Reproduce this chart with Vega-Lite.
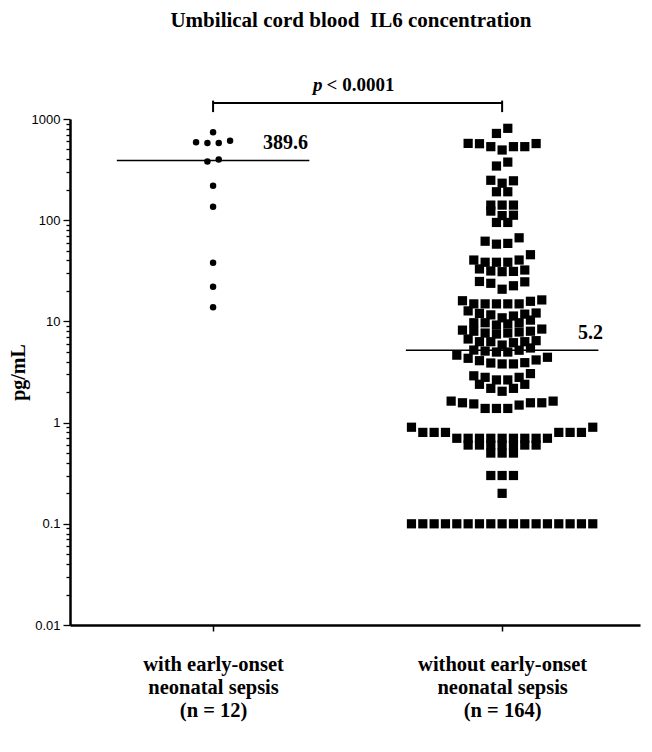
{
  "$schema": "https://vega.github.io/schema/vega-lite/v6.json",
  "width": 570,
  "height": 506,
  "autosize": "none",
  "padding": {"left": 70, "top": 119, "right": 12, "bottom": 127},
  "background": "white",
  "title": {
    "text": "Umbilical cord blood\u00a0 IL6 concentration",
    "font": "Liberation Serif",
    "fontSize": 21,
    "fontWeight": "bold",
    "color": "black",
    "anchor": "middle",
    "frame": "group",
    "dx": -4,
    "offset": 45
  },
  "datasets": {
    "il6": [
      {"group": "with", "il6": 739}, {"group": "with", "il6": 611}, {"group": "with", "il6": 590}, {"group": "with", "il6": 580},
      {"group": "with", "il6": 578}, {"group": "with", "il6": 398.2}, {"group": "with", "il6": 381}, {"group": "with", "il6": 219},
      {"group": "with", "il6": 136}, {"group": "with", "il6": 38}, {"group": "with", "il6": 22}, {"group": "with", "il6": 13.8},
      {"group": "without", "il6": 809}, {"group": "without", "il6": 720},
      {"group": "without", "il6": 574}, {"group": "without", "il6": 572}, {"group": "without", "il6": 570}, {"group": "without", "il6": 533}, {"group": "without", "il6": 533}, {"group": "without", "il6": 533}, {"group": "without", "il6": 494},
      {"group": "without", "il6": 375}, {"group": "without", "il6": 343},
      {"group": "without", "il6": 248}, {"group": "without", "il6": 245}, {"group": "without", "il6": 232},
      {"group": "without", "il6": 191}, {"group": "without", "il6": 191},
      {"group": "without", "il6": 141}, {"group": "without", "il6": 141}, {"group": "without", "il6": 141},
      {"group": "without", "il6": 123}, {"group": "without", "il6": 112}, {"group": "without", "il6": 111},
      {"group": "without", "il6": 95}, {"group": "without", "il6": 95},
      {"group": "without", "il6": 67}, {"group": "without", "il6": 62}, {"group": "without", "il6": 59}, {"group": "without", "il6": 58},
      {"group": "without", "il6": 45.6}, {"group": "without", "il6": 40.4}, {"group": "without", "il6": 40.4}, {"group": "without", "il6": 38.4}, {"group": "without", "il6": 38.4}, {"group": "without", "il6": 38.4},
      {"group": "without", "il6": 33}, {"group": "without", "il6": 32.2}, {"group": "without", "il6": 31.5}, {"group": "without", "il6": 31.2}, {"group": "without", "il6": 31.0},
      {"group": "without", "il6": 24.8}, {"group": "without", "il6": 24.6}, {"group": "without", "il6": 23.8}, {"group": "without", "il6": 22.5}, {"group": "without", "il6": 20.8},
      {"group": "without", "il6": 16.3}, {"group": "without", "il6": 16.0}, {"group": "without", "il6": 15.8}, {"group": "without", "il6": 14.9}, {"group": "without", "il6": 14.9}, {"group": "without", "il6": 14.9}, {"group": "without", "il6": 14.9}, {"group": "without", "il6": 14.9},
      {"group": "without", "il6": 12.7}, {"group": "without", "il6": 12.1}, {"group": "without", "il6": 12.0}, {"group": "without", "il6": 11.8}, {"group": "without", "il6": 11.6}, {"group": "without", "il6": 11.3}, {"group": "without", "il6": 10.85},
      {"group": "without", "il6": 10.3}, {"group": "without", "il6": 9.7}, {"group": "without", "il6": 9.7}, {"group": "without", "il6": 9.7}, {"group": "without", "il6": 9.45}, {"group": "without", "il6": 9.2},
      {"group": "without", "il6": 8.4}, {"group": "without", "il6": 8.2}, {"group": "without", "il6": 8.0}, {"group": "without", "il6": 8.0}, {"group": "without", "il6": 7.85}, {"group": "without", "il6": 7.67}, {"group": "without", "il6": 7.67}, {"group": "without", "il6": 7.5},
      {"group": "without", "il6": 6.7}, {"group": "without", "il6": 6.45}, {"group": "without", "il6": 6.3}, {"group": "without", "il6": 6.3}, {"group": "without", "il6": 6.3}, {"group": "without", "il6": 6.16}, {"group": "without", "il6": 5.84},
      {"group": "without", "il6": 5.46}, {"group": "without", "il6": 5.21}, {"group": "without", "il6": 5.19}, {"group": "without", "il6": 5.09}, {"group": "without", "il6": 4.98}, {"group": "without", "il6": 4.98},
      {"group": "without", "il6": 4.64}, {"group": "without", "il6": 4.42}, {"group": "without", "il6": 4.32}, {"group": "without", "il6": 4.16}, {"group": "without", "il6": 4.09}, {"group": "without", "il6": 3.91}, {"group": "without", "il6": 3.88}, {"group": "without", "il6": 3.8}, {"group": "without", "il6": 3.8},
      {"group": "without", "il6": 3.05}, {"group": "without", "il6": 2.9}, {"group": "without", "il6": 2.8}, {"group": "without", "il6": 2.8}, {"group": "without", "il6": 2.64}, {"group": "without", "il6": 2.64},
      {"group": "without", "il6": 2.39}, {"group": "without", "il6": 2.39}, {"group": "without", "il6": 2.18}, {"group": "without", "il6": 2.18}, {"group": "without", "il6": 2.04},
      {"group": "without", "il6": 1.63}, {"group": "without", "il6": 1.63}, {"group": "without", "il6": 1.57}, {"group": "without", "il6": 1.57}, {"group": "without", "il6": 1.57}, {"group": "without", "il6": 1.53}, {"group": "without", "il6": 1.49}, {"group": "without", "il6": 1.38}, {"group": "without", "il6": 1.38}, {"group": "without", "il6": 1.38},
      {"group": "without", "il6": 0.9}, {"group": "without", "il6": 0.9},
      {"group": "without", "il6": 0.8}, {"group": "without", "il6": 0.8}, {"group": "without", "il6": 0.8}, {"group": "without", "il6": 0.8}, {"group": "without", "il6": 0.8}, {"group": "without", "il6": 0.8},
      {"group": "without", "il6": 0.7}, {"group": "without", "il6": 0.7}, {"group": "without", "il6": 0.7}, {"group": "without", "il6": 0.7}, {"group": "without", "il6": 0.7}, {"group": "without", "il6": 0.7}, {"group": "without", "il6": 0.7}, {"group": "without", "il6": 0.7}, {"group": "without", "il6": 0.7},
      {"group": "without", "il6": 0.6}, {"group": "without", "il6": 0.6}, {"group": "without", "il6": 0.6}, {"group": "without", "il6": 0.6}, {"group": "without", "il6": 0.6}, {"group": "without", "il6": 0.6}, {"group": "without", "il6": 0.6},
      {"group": "without", "il6": 0.5}, {"group": "without", "il6": 0.5}, {"group": "without", "il6": 0.5},
      {"group": "without", "il6": 0.3}, {"group": "without", "il6": 0.3}, {"group": "without", "il6": 0.3},
      {"group": "without", "il6": 0.2},
      {"group": "without", "il6": 0.1}, {"group": "without", "il6": 0.1}, {"group": "without", "il6": 0.1}, {"group": "without", "il6": 0.1}, {"group": "without", "il6": 0.1}, {"group": "without", "il6": 0.1},
      {"group": "without", "il6": 0.1}, {"group": "without", "il6": 0.1}, {"group": "without", "il6": 0.1}, {"group": "without", "il6": 0.1}, {"group": "without", "il6": 0.1}, {"group": "without", "il6": 0.1},
      {"group": "without", "il6": 0.1}, {"group": "without", "il6": 0.1}, {"group": "without", "il6": 0.1}, {"group": "without", "il6": 0.1}, {"group": "without", "il6": 0.1}
    ],
    "medians": [
      {"group": "with", "median": 389.6, "label": "389.6"},
      {"group": "without", "median": 5.2, "label": "5.2"}
    ]
  },
  "layer": [
    {
      "data": {"name": "il6"},
      "transform": [
        {"calculate": "datum.il6 > 1 ? floor(32.36 - 11 * log(datum.il6) / LN10) : 100 - floor((log(datum.il6) / LN10 + 0.16) / 0.12)", "as": "row"},
        {"window": [{"op": "row_number", "as": "rk"}, {"op": "count", "as": "n"}], "groupby": ["group", "row"], "sort": [{"field": "il6", "order": "ascending"}], "frame": [null, null]},
        {"calculate": "datum.rk - 1", "as": "r"},
        {"calculate": "datum.n % 2 == 1 ? (datum.r == 0 ? 0 : (datum.r % 2 == 1 ? 1 : -1) * ceil(datum.r / 2)) : (datum.r % 2 == 0 ? -1 : 1) * (floor(datum.r / 2) + 0.5)", "as": "slot"},
        {"calculate": "(datum.group == 'without' ? 1 : 0) + datum.slot * 0.0392", "as": "xpos"}
      ],
      "encoding": {
        "x": {
          "field": "xpos", "type": "quantitative",
          "scale": {"domain": [-0.495, 1.477], "nice": false, "zero": false},
          "axis": {
            "values": [0, 1],
            "labelExpr": "datum.value < 0.5 ? ['with early-onset', 'neonatal sepsis', '(n = 12)'] : ['without early-onset', 'neonatal sepsis', '(n = 164)']",
            "title": null, "grid": false,
            "domainWidth": 2.5, "domainColor": "black",
            "tickSize": 6, "tickWidth": 1.5, "tickColor": "black",
            "labelFont": "Liberation Serif", "labelFontWeight": "bold", "labelFontSize": 20.5,
            "labelLineHeight": 23, "labelPadding": 23, "labelBaseline": "top",
            "labelColor": "black", "labelOverlap": false, "labelFlush": false
          }
        },
        "y": {
          "field": "il6", "type": "quantitative",
          "scale": {"type": "log", "domain": [0.01, 1000], "nice": false},
          "axis": {
            "title": "pg/mL",
            "values": [0.01, 0.02, 0.03, 0.04, 0.05, 0.06, 0.07, 0.08, 0.09, 0.1, 0.2, 0.3, 0.4, 0.5, 0.6, 0.7, 0.8, 0.9, 1, 2, 3, 4, 5, 6, 7, 8, 9, 10, 20, 30, 40, 50, 60, 70, 80, 90, 100, 200, 300, 400, 500, 600, 700, 800, 900, 1000],
            "labelExpr": "abs(log(datum.value) / LN10 - round(log(datum.value) / LN10)) < 0.001 ? format(datum.value, '~r') : ''",
            "tickSize": {"condition": {"test": "abs(log(datum.value) / LN10 - round(log(datum.value) / LN10)) < 0.001", "value": 7}, "value": 4},
            "tickWidth": 1.3, "tickColor": "black",
            "grid": false, "domainWidth": 2.5, "domainColor": "black",
            "labelFont": "Liberation Sans", "labelFontSize": 13, "labelColor": "black",
            "labelPadding": 3, "labelOverlap": false, "labelFlush": false,
            "titleFont": "Liberation Serif", "titleFontSize": 20, "titleFontWeight": "bold", "titleColor": "black",
            "titleX": -52, "titleY": 253, "titleBaseline": "middle", "titleAlign": "center"
          }
        }
      },
      "layer": [
        {
          "transform": [{"filter": "datum.group == 'with'"}],
          "mark": {"type": "point", "shape": "circle", "filled": true, "color": "black", "size": 42, "opacity": 1}
        },
        {
          "transform": [{"filter": "datum.group == 'without'"}],
          "mark": {"type": "square", "color": "black", "size": 85, "opacity": 1}
        }
      ]
    },
    {
      "data": {"name": "medians"},
      "transform": [
        {"calculate": "(datum.group == 'without' ? 1 : 0) - 0.333", "as": "x1"},
        {"calculate": "(datum.group == 'without' ? 1 : 0) + 0.333", "as": "x2"}
      ],
      "mark": {"type": "rule", "color": "black", "strokeWidth": 1.5},
      "encoding": {
        "x": {"field": "x1", "type": "quantitative"},
        "x2": {"field": "x2"},
        "y": {"field": "median", "type": "quantitative"}
      }
    },
    {
      "data": {"name": "medians"},
      "transform": [
        {"filter": "datum.group == 'with'"},
        {"calculate": "0", "as": "gx"}
      ],
      "mark": {"type": "text", "align": "left", "baseline": "middle", "dx": 50, "dy": -17, "font": "Liberation Serif", "fontWeight": "bold", "fontSize": 20, "color": "black"},
      "encoding": {
        "x": {"field": "gx", "type": "quantitative"},
        "y": {"field": "median", "type": "quantitative"},
        "text": {"field": "label"}
      }
    },
    {
      "data": {"name": "medians"},
      "transform": [
        {"filter": "datum.group == 'without'"},
        {"calculate": "1", "as": "gx"}
      ],
      "mark": {"type": "text", "align": "left", "baseline": "middle", "dx": 76, "dy": -17, "font": "Liberation Serif", "fontWeight": "bold", "fontSize": 20, "color": "black"},
      "encoding": {
        "x": {"field": "gx", "type": "quantitative"},
        "y": {"field": "median", "type": "quantitative"},
        "text": {"field": "label"}
      }
    },
    {
      "data": {"values": [{}]},
      "mark": {"type": "rule", "color": "black", "strokeWidth": 2},
      "encoding": {
        "x": {"datum": 0},
        "x2": {"datum": 1},
        "y": {"datum": 1440}
      }
    },
    {
      "data": {"values": [{}]},
      "mark": {"type": "rule", "color": "black", "strokeWidth": 2},
      "encoding": {
        "x": {"datum": 0},
        "y": {"datum": 1520},
        "y2": {"datum": 1170}
      }
    },
    {
      "data": {"values": [{}]},
      "mark": {"type": "rule", "color": "black", "strokeWidth": 2},
      "encoding": {
        "x": {"datum": 1},
        "y": {"datum": 1520},
        "y2": {"datum": 1170}
      }
    },
    {
      "data": {"values": [{}]},
      "mark": {"type": "text", "text": "p", "align": "right", "baseline": "middle", "dx": -35, "font": "Liberation Serif", "fontStyle": "italic", "fontWeight": "bold", "fontSize": 19, "color": "black"},
      "encoding": {
        "x": {"datum": 0.5},
        "y": {"datum": 2170}
      }
    },
    {
      "data": {"values": [{}]},
      "mark": {"type": "text", "text": "< 0.0001", "align": "left", "baseline": "middle", "dx": -31, "font": "Liberation Serif", "fontWeight": "bold", "fontSize": 19, "color": "black"},
      "encoding": {
        "x": {"datum": 0.5},
        "y": {"datum": 2170}
      }
    }
  ],
  "config": {
    "view": {"stroke": null}
  }
}
